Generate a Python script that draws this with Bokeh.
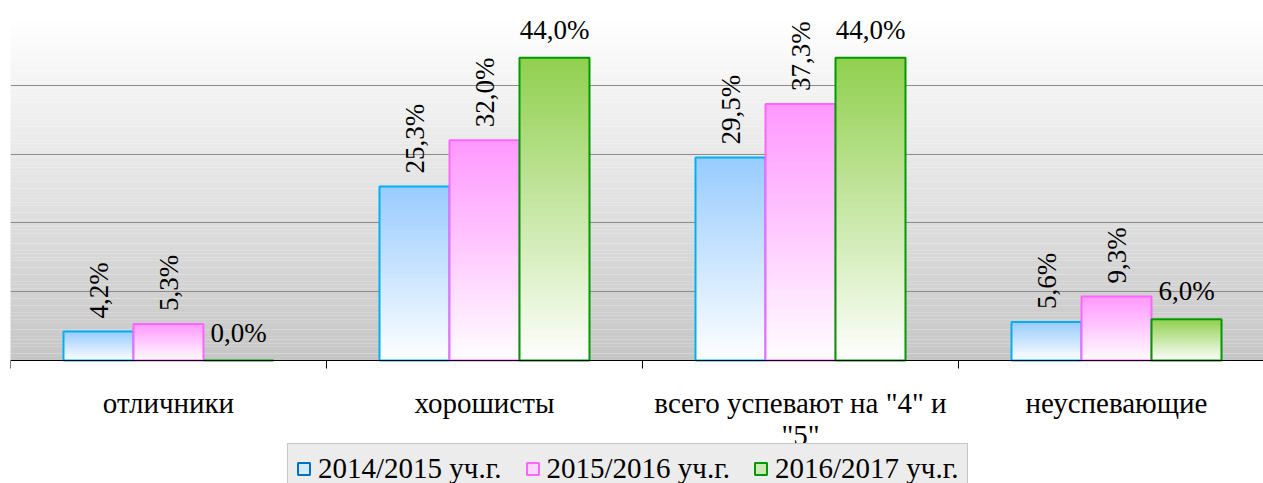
import numpy as np
from bokeh.plotting import figure
from bokeh.models import (ColumnDataSource, Range1d, FixedTicker, Legend, LegendItem)
from bokeh.core.properties import value
from bokeh.embed import file_html
from bokeh.resources import INLINE

# ---------------- data ----------------
categories = ["отличники", "хорошисты", "всего успевают на \"4\" и\n\"5\"", "неуспевающие"]
series_names = ["2014/2015 уч.г.", "2015/2016 уч.г.", "2016/2017 уч.г."]
v2014 = [4.2, 25.3, 29.5, 5.6]
v2015 = [5.3, 32.0, 37.3, 9.3]
v2016 = [0.0, 44.0, 44.0, 6.0]
series_values = [v2014, v2015, v2016]

# ---------------- style ----------------
SERIF = "Liberation Serif"
top_colors = ["#99ccff", "#ff99ff", "#92d050"]
line_colors = ["#00b0f0", "#ff66ff", "#009900"]
legend_fill = ["#d6eaff", "#ffd6ff", "#cde8b4"]
legend_line = ["#0070c0", "#ff66ff", "#009900"]
bar_w = 70 / 316
offsets = [-bar_w, 0.0, bar_w]
Y_MAX = 50
PX_PER_UNIT = 344 / Y_MAX
FRAME_H = 483 - 16
Y_MIN = Y_MAX - FRAME_H / PX_PER_UNIT
N_SEG = 40


def mix(c, f):
    c = c.lstrip("#")
    r, g, b = int(c[0:2], 16), int(c[2:4], 16), int(c[4:6], 16)
    r = round(255 + (r - 255) * f)
    g = round(255 + (g - 255) * f)
    b = round(255 + (b - 255) * f)
    return "#%02x%02x%02x" % (r, g, b)


p = figure(width=1263, height=483, output_backend="svg", toolbar_location=None,
           x_range=Range1d(0, (1263 - 10) / 316), y_range=Range1d(Y_MIN, Y_MAX),
           y_axis_location=None, min_border_left=10, min_border_right=0,
           min_border_top=16, min_border_bottom=0)
p.background_fill_color = "white"
p.border_fill_color = "white"
p.outline_line_color = None

# background vertical gradient (white top -> grey bottom) over the value area
nb = 100
edges = np.linspace(0, Y_MAX, nb + 1)
bg_cols = []
for k in range(nb):
    f = 1 - (edges[k] + edges[k + 1]) / 2 / Y_MAX
    g = round(255 - (255 - 198) * f)
    bg_cols.append("#%02x%02x%02x" % (g, g, g))
p.quad(left=-1, right=10, bottom=edges[:-1], top=edges[1:] + 0.01,
       fill_color=bg_cols, line_color=None, level="image")

# grid (also gives the top and left borders of the value area)
p.xgrid.ticker = FixedTicker(ticks=[0])
p.xgrid.bounds = (0, Y_MAX)
p.xgrid.grid_line_color = "#8c8c8c"
p.xgrid.grid_line_width = 2
p.ygrid.ticker = FixedTicker(ticks=[10, 20, 30, 40, 50])
p.ygrid.grid_line_color = "#8c8c8c"
p.ygrid.grid_line_width = 1

# bars with vertical gradient
for s, vals in enumerate(series_values):
    L, R, T, C = [], [], [], []
    for i, v in enumerate(vals):
        xc = i + 0.5 + offsets[s]
        for k in range(N_SEG, 0, -1):
            f = k / N_SEG
            L.append(xc - bar_w / 2)
            R.append(xc + bar_w / 2)
            T.append(v * f)
            C.append(mix(top_colors[s], f))
    src = ColumnDataSource(dict(left=L, right=R, top=T, bottom=[0] * len(T), color=C))
    p.quad(left="left", right="right", top="top", bottom="bottom", source=src,
           fill_color="color", line_color=None)
    xs = [i + 0.5 + offsets[s] for i in range(len(vals))]
    p.quad(left=[x - bar_w / 2 for x in xs], right=[x + bar_w / 2 for x in xs],
           top=vals, bottom=[0] * len(vals), fill_color=None,
           line_color=line_colors[s], line_width=2)

# data labels
for s, vals in enumerate(series_values):
    xs = [i + 0.5 + offsets[s] for i in range(len(vals))]
    txt = [("%.1f" % v).replace(".", ",") + "%" for v in vals]
    src = ColumnDataSource(dict(x=xs, y=vals, t=txt))
    if s < 2:
        p.text(x="x", y="y", text="t", source=src, angle=np.pi / 2,
               text_align="left", text_baseline="middle", y_offset=-13,
               text_font=value(SERIF), text_font_size="27px", text_color="black")
    else:
        p.text(x="x", y="y", text="t", source=src,
               text_align="center", text_baseline="alphabetic", y_offset=-28,
               text_font=value(SERIF), text_font_size="27px", text_color="black")

# x axis pinned at value 0: labels at category centres, ticks at boundaries
centers = [i + 0.5 for i in range(len(categories))]
bounds = [float(i) for i in range(len(categories) + 1)]
ax = p.xaxis[0]
ax.fixed_location = 0
ax.ticker = FixedTicker(ticks=centers, minor_ticks=bounds)
ax.major_label_overrides = {c: lab for c, lab in zip(centers, categories)}
ax.major_tick_out = 0
ax.major_tick_in = 0
ax.minor_tick_out = 8
ax.minor_tick_in = 0
ax.minor_tick_line_color = "black"
ax.axis_line_color = "black"
ax.axis_line_width = 1
ax.major_label_standoff = 18
ax.major_label_text_font = SERIF
ax.major_label_text_font_size = "29px"
ax.major_label_text_line_height = 1.0
ax.major_label_text_color = "black"

# legend (proxy renderers share the bar data but are hidden)
items = []
for s, name in enumerate(series_names):
    vals = series_values[s]
    xs = [i + 0.5 + offsets[s] for i in range(len(vals))]
    r = p.quad(left=[x - bar_w / 2 for x in xs], right=[x + bar_w / 2 for x in xs],
               top=vals, bottom=[0] * len(vals), fill_color=legend_fill[s],
               line_color=legend_line[s], line_width=2, visible=False)
    items.append(LegendItem(label=name, renderers=[r]))
legend = Legend(items=items, orientation="horizontal", location=(277, -11),
                label_text_font=SERIF, label_text_font_size="29px",
                label_text_color="black", glyph_width=15, glyph_height=15,
                label_standoff=7, spacing=23, padding=8, margin=0,
                inactive_fill_alpha=0.0,
                border_line_color="#a0a0a0", border_line_width=1,
                background_fill_color="#ececec", background_fill_alpha=1.0)
p.add_layout(legend, "center")

open("out.html", "w").write(file_html(p, INLINE))
